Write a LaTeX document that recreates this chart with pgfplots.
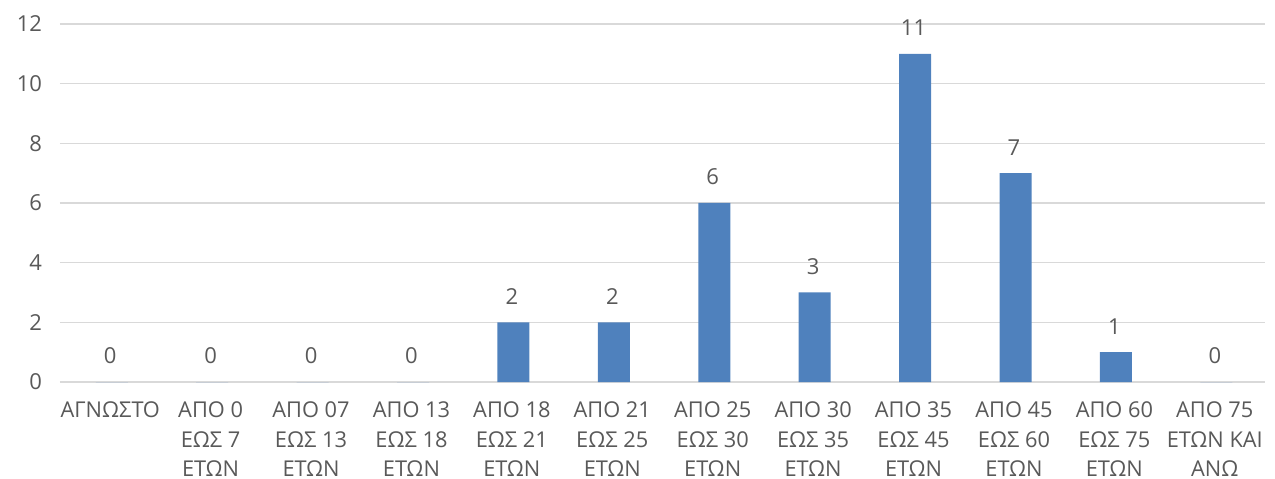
\documentclass[border=0pt]{standalone}
\usepackage{pgfplots}
\pgfplotsset{compat=1.18}
\usepackage{fontspec}
\setmainfont{Open Sans}
\definecolor{barblue}{HTML}{4F81BD}
\definecolor{gridgray}{HTML}{D9D9D9}
\definecolor{txtgray}{HTML}{595959}
\begin{document}
\begin{tikzpicture}
\useasboundingbox (-30bp,-48.5bp) rectangle (607.5bp,191bp);
\begin{axis}[
  at={(0,0)}, anchor=south west,
  scale only axis,
  width=602.5bp, height=179bp,
  xmin=-0.5, xmax=11.5,
  ymin=0, ymax=12,
  ytick={0,2,...,12},
  xtick={0,...,11},
  xticklabels={
    ΑΓΝΩΣΤΟ,
    {ΑΠΟ 0\\ΕΩΣ 7\\ΕΤΩΝ},
    {ΑΠΟ 07\\ΕΩΣ 13\\ΕΤΩΝ},
    {ΑΠΟ 13\\ΕΩΣ 18\\ΕΤΩΝ},
    {ΑΠΟ 18\\ΕΩΣ 21\\ΕΤΩΝ},
    {ΑΠΟ 21\\ΕΩΣ 25\\ΕΤΩΝ},
    {ΑΠΟ 25\\ΕΩΣ 30\\ΕΤΩΝ},
    {ΑΠΟ 30\\ΕΩΣ 35\\ΕΤΩΝ},
    {ΑΠΟ 35\\ΕΩΣ 45\\ΕΤΩΝ},
    {ΑΠΟ 45\\ΕΩΣ 60\\ΕΤΩΝ},
    {ΑΠΟ 60\\ΕΩΣ 75\\ΕΤΩΝ},
    {ΑΠΟ 75\\ΕΤΩΝ ΚΑΙ\\ΑΝΩ}},
  xticklabel style={align=center, font=\fontsize{10.9bp}{14.75bp}\selectfont, text=txtgray, yshift=-6.5bp},
  yticklabel style={font=\fontsize{11bp}{12bp}\selectfont, text=txtgray, xshift=-5.5bp},
  /pgf/number format/assume math mode=true,
  major tick length=0pt,
  axis line style={draw=none},
  ymajorgrids,
  grid style={gridgray, line width=0.6pt},
  nodes near coords,
  every node near coord/.append style={font=\fontsize{11bp}{12bp}\selectfont, text=txtgray, yshift=5.5bp},
  clip=false,
]
\addplot[ybar, bar width=16bp, bar shift=0.8bp, fill=barblue, draw=none] coordinates {
(0,0) (1,0) (2,0) (3,0) (4,2) (5,2) (6,6) (7,3) (8,11) (9,7) (10,1) (11,0)
};
\end{axis}
\end{tikzpicture}
\end{document}
